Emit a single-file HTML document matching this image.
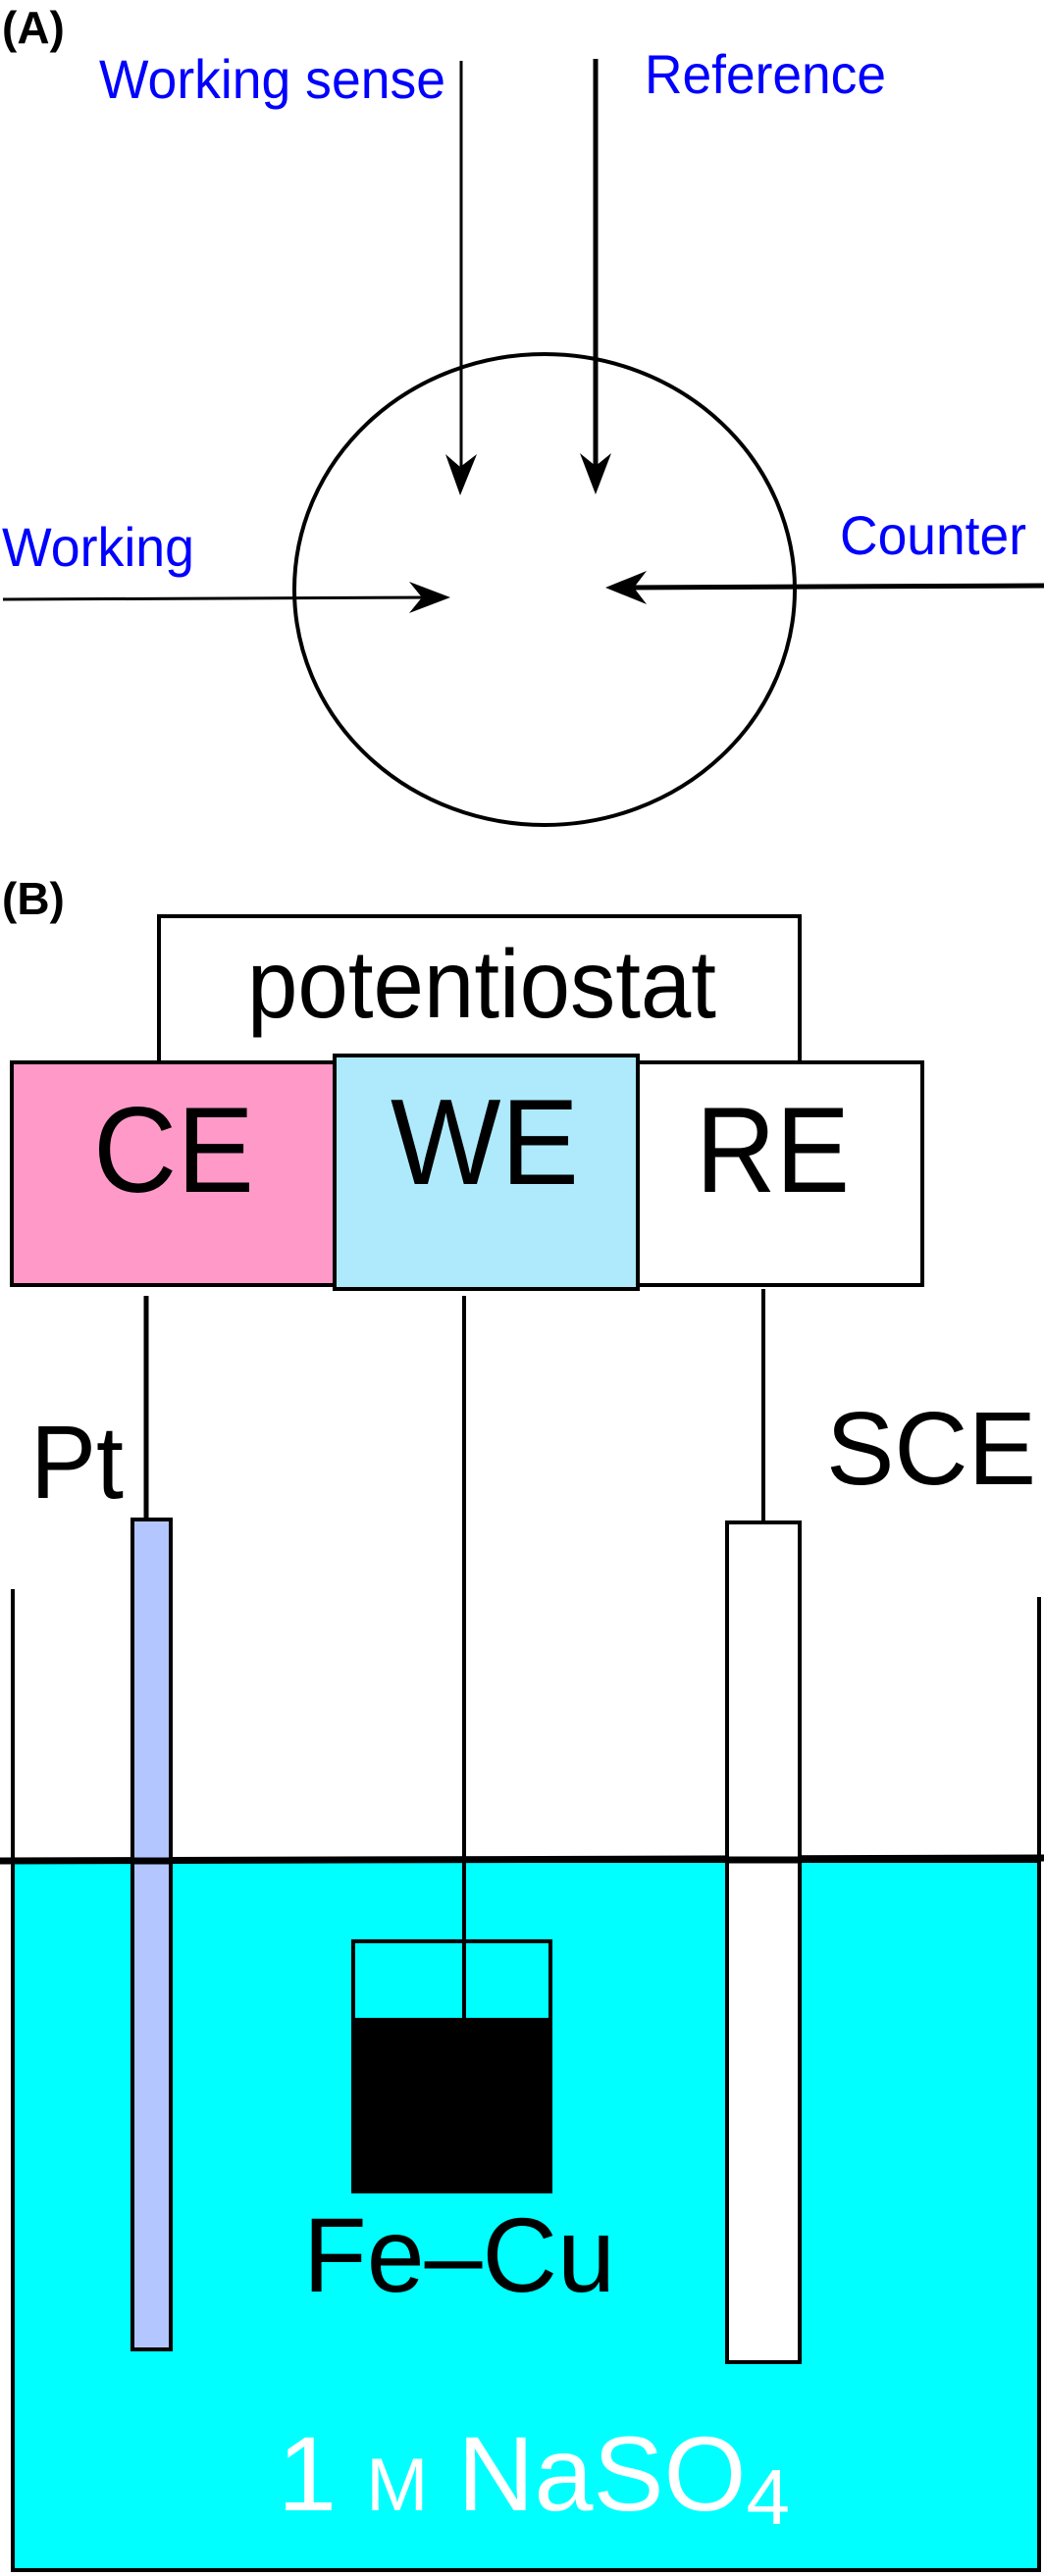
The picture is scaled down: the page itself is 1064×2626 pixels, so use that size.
<!DOCTYPE html>
<html><head><meta charset="utf-8"><style>
html,body{margin:0;padding:0;background:#fff}
svg{display:block}
text{font-family:"Liberation Sans",Arial,sans-serif}
</style></head><body>
<svg width="1064" height="2626" viewBox="0 0 1064 2626" xmlns="http://www.w3.org/2000/svg">
<!-- Panel A -->
<text x="2" y="44" font-size="46" font-weight="bold" fill="#000">(A)</text>
<text x="101" y="100" font-size="56" fill="#0000ff" textLength="353" lengthAdjust="spacingAndGlyphs">Working sense</text>
<text x="657" y="95" font-size="56" fill="#0000ff" textLength="246" lengthAdjust="spacingAndGlyphs">Reference</text>
<text x="2" y="577" font-size="56" fill="#0000ff" textLength="196" lengthAdjust="spacingAndGlyphs">Working</text>
<text x="856" y="565" font-size="56" fill="#0000ff" textLength="190" lengthAdjust="spacingAndGlyphs">Counter</text>

<ellipse cx="555" cy="601" rx="255" ry="240" fill="none" stroke="#000" stroke-width="4"/>

<line x1="470" y1="62" x2="470" y2="490" stroke="#000" stroke-width="3"/>
<polygon points="469,505 454,463 469,476 486,463" fill="#000"/>
<line x1="607" y1="60" x2="607" y2="490" stroke="#000" stroke-width="5"/>
<polygon points="607,504 591,462 607,475 623,462" fill="#000"/>

<line x1="3" y1="611" x2="445" y2="609" stroke="#000" stroke-width="3"/>
<polygon points="459,609 417,593 430,609 417,625" fill="#000"/>
<line x1="1064" y1="597" x2="630" y2="599" stroke="#000" stroke-width="5"/>
<polygon points="617,599 659,582 646,599 659,616" fill="#000"/>

<!-- Panel B -->
<text x="2" y="932" font-size="46" font-weight="bold" fill="#000">(B)</text>
<polyline points="162,1083 162,934 815,934 815,1083" fill="none" stroke="#000" stroke-width="4"/>
<text x="252" y="1037" font-size="98" fill="#000" textLength="478" lengthAdjust="spacingAndGlyphs">potentiostat</text>

<rect x="12" y="1083" width="329" height="227" fill="#ff99c8" stroke="#000" stroke-width="4"/>
<rect x="650" y="1083" width="290" height="227" fill="#fff" stroke="#000" stroke-width="4"/>
<rect x="341" y="1076" width="309" height="238" fill="#aeeafc" stroke="#000" stroke-width="4"/>
<text x="95" y="1215" font-size="124" fill="#000" textLength="164" lengthAdjust="spacingAndGlyphs">CE</text>
<text x="398" y="1207" font-size="124" fill="#000" textLength="192" lengthAdjust="spacingAndGlyphs">WE</text>
<text x="709" y="1215" font-size="124" fill="#000" textLength="157" lengthAdjust="spacingAndGlyphs">RE</text>

<!-- beaker walls (top portion) -->
<line x1="13" y1="1620" x2="13" y2="1897" stroke="#000" stroke-width="4"/>
<line x1="1059" y1="1628" x2="1059" y2="1897" stroke="#000" stroke-width="4"/>

<!-- water -->
<rect x="13" y="1897" width="1046" height="723" fill="#00ffff" stroke="#000" stroke-width="4"/>
<line x1="0" y1="1897" x2="1064" y2="1894" stroke="#000" stroke-width="7"/>

<!-- wires -->
<line x1="149" y1="1321" x2="149" y2="1549" stroke="#000" stroke-width="5"/>
<line x1="473" y1="1321" x2="473" y2="2059" stroke="#000" stroke-width="4"/>
<line x1="778" y1="1314" x2="778" y2="1552" stroke="#000" stroke-width="4"/>

<!-- Pt rod -->
<rect x="135" y="1549" width="39" height="846" fill="#b3c6ff" stroke="#000" stroke-width="4"/>
<line x1="135" y1="1897" x2="174" y2="1897" stroke="#000" stroke-width="7"/>
<!-- SCE tube -->
<rect x="741" y="1552" width="74" height="856" fill="#fff" stroke="#000" stroke-width="4"/>
<line x1="741" y1="1896" x2="815" y2="1896" stroke="#000" stroke-width="7"/>

<text x="31" y="1527" font-size="106" fill="#000" textLength="95" lengthAdjust="spacingAndGlyphs">Pt</text>
<text x="842" y="1513" font-size="106" fill="#000" textLength="214" lengthAdjust="spacingAndGlyphs">SCE</text>

<!-- Fe-Cu sample -->
<rect x="360" y="1979" width="201" height="80" fill="none" stroke="#000" stroke-width="4"/>
<rect x="358" y="2059" width="205" height="177" fill="#000"/>
<text x="309" y="2336" font-size="108" fill="#000" textLength="318" lengthAdjust="spacingAndGlyphs">Fe–Cu</text>

<text x="283" y="2559" font-size="108" fill="#fff">1 <tspan font-size="76">M</tspan> NaSO<tspan font-size="80" dy="14">4</tspan></text>
</svg>
</body></html>
